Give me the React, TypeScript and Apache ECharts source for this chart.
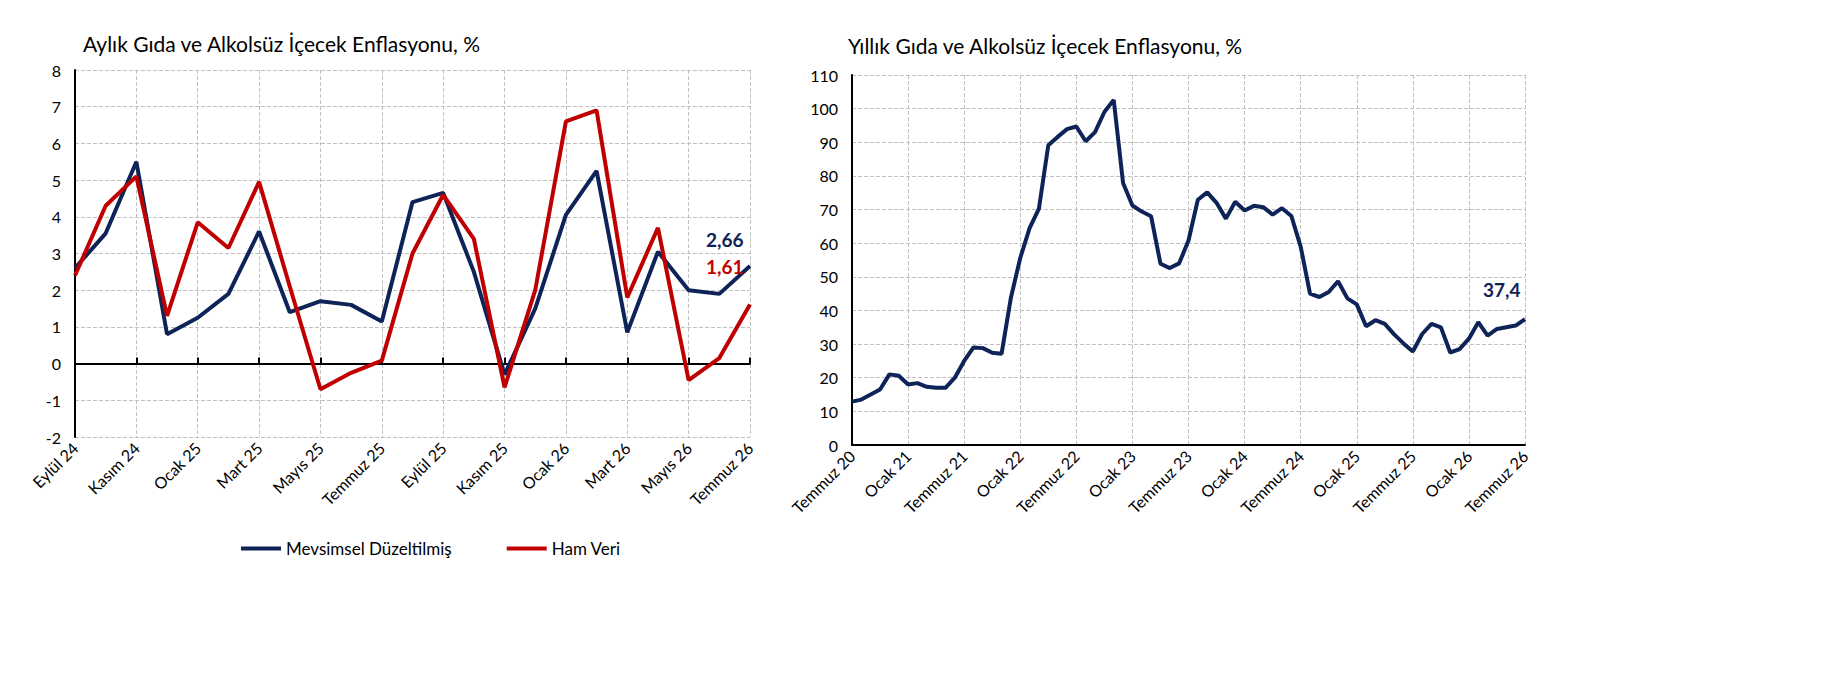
import { useEffect, useRef } from "react";
import * as echarts from "echarts";

const MONTHS = ["Ocak", "Şubat", "Mart", "Nisan", "Mayıs", "Haziran", "Temmuz", "Ağustos", "Eylül", "Ekim", "Kasım", "Aralık"];

// monthly chart: Eylül 24 .. Temmuz 26
const monthlyCats: string[] = [];
for (let i = 0; i < 23; i++) { const m = (8 + i) % 12; const y = 24 + Math.floor((8 + i) / 12); monthlyCats.push(`${MONTHS[m]} ${y}`); }
const seasonal = [2.6, 3.55, 5.5, 0.8, 1.25, 1.9, 3.6, 1.4, 1.7, 1.6, 1.15, 4.4, 4.65, 2.5, -0.3, 1.5, 4.05, 5.25, 0.85, 3.05, 2.0, 1.9, 2.66];
const raw = [2.4, 4.3, 5.1, 1.3, 3.85, 3.15, 4.95, 2.1, -0.7, -0.25, 0.08, 3.0, 4.6, 3.4, -0.65, 2.0, 6.6, 6.9, 1.8, 3.7, -0.45, 0.15, 1.61];

// annual chart: Temmuz 20 .. Temmuz 26
const annualCats: string[] = [];
for (let i = 0; i < 73; i++) { const m = (6 + i) % 12; const y = 20 + Math.floor((6 + i) / 12); annualCats.push(`${MONTHS[m]} ${y}`); }
const annual = [
  12.9, 13.5, 15, 16.5, 21, 20.6, 18, 18.4, 17.3, 17, 17, 20,
  25, 29, 28.8, 27.4, 27.1, 43.8, 55.6, 64.5, 70.3, 89.1, 91.6, 93.9,
  94.7, 90.3, 93, 99, 102.6, 77.9, 71.2, 69.4, 68, 53.9, 52.6, 54,
  60.8, 72.9, 75.1, 72, 67.3, 72.3, 69.7, 71.1, 70.7, 68.5, 70.4, 68.1,
  59, 45, 44, 45.5, 48.7, 43.6, 41.8, 35.3, 37.1, 36, 32.9, 30.2,
  27.8, 33, 36, 35, 27.5, 28.5, 31.6, 36.5, 32.5, 34.5, 35, 35.5, 37.4,
];

const NAVY = "#0e2357";
const RED = "#c00000";
const FONT = "Lato";
const fmtTr = (p: any) => String(p.value).replace(".", ",");

const endLabel = (color: string, offset: number[]) => ({
  show: true, formatter: fmtTr, color, fontSize: 19, fontWeight: "bold", fontFamily: FONT, offset, distance: 0,
});

export default function App() {
  const ref = useRef<HTMLDivElement>(null);
  useEffect(() => {
    if (!ref.current) return;
    const chart = echarts.init(ref.current, undefined, { renderer: "svg" });
    const split = { show: true, lineStyle: { color: "#c0c0c0", type: "dashed" as const } };
    const axLbl = { color: "#000", fontSize: 16, fontFamily: FONT };
    chart.setOption({
      animation: false,
      textStyle: { fontFamily: FONT },
      title: [
        { text: "Aylık Gıda ve Alkolsüz İçecek Enflasyonu, %", left: 70, top: 20, textStyle: { fontSize: 21, fontWeight: "normal", color: "#000", fontFamily: FONT } },
        { text: "Yıllık Gıda ve Alkolsüz İçecek Enflasyonu, %", left: 835, top: 22, textStyle: { fontSize: 21, fontWeight: "normal", color: "#000", fontFamily: FONT } },
      ],
      legend: {
        data: ["Mevsimsel Düzeltilmiş", "Ham Veri"], left: 228, top: 527, itemGap: 55, itemWidth: 40, itemHeight: 4,
        icon: "rect", textStyle: { fontSize: 17, color: "#000", fontFamily: FONT },
      },
      grid: [
        { left: 67, top: 62, width: 675, height: 367 },
        { left: 844, top: 67, width: 673, height: 370 },
      ],
      xAxis: [
        { type: "category", gridIndex: 0, data: monthlyCats, boundaryGap: false,
          axisLine: { show: false, onZero: false }, axisTick: { show: false },
          axisLabel: { ...axLbl, interval: 1, rotate: 45, margin: 8 },
          splitLine: { ...split, interval: 1 } },
        { type: "category", gridIndex: 1, data: annualCats, boundaryGap: false,
          axisLine: { lineStyle: { color: "#000", width: 2 } },
          axisTick: { show: false },
          axisLabel: { ...axLbl, interval: 5, rotate: 45, margin: 8 },
          splitLine: { ...split, interval: 5 } },
        { type: "category", gridIndex: 0, data: monthlyCats, boundaryGap: false,
          axisLine: { onZero: true, lineStyle: { color: "#000", width: 2 } },
          axisTick: { show: true, interval: 1, length: 6, lineStyle: { color: "#000", width: 2 } },
          axisLabel: { show: false }, splitLine: { show: false } },
      ],
      yAxis: [
        { type: "value", gridIndex: 0, min: -2, max: 8, interval: 1,
          axisLine: { show: true, lineStyle: { color: "#000", width: 2 } }, axisTick: { show: false },
          axisLabel: { ...axLbl, margin: 14 }, splitLine: split },
        { type: "value", gridIndex: 1, min: 0, max: 110, interval: 10,
          axisLine: { show: true, lineStyle: { color: "#000", width: 2 } }, axisTick: { show: false },
          axisLabel: { ...axLbl, margin: 14 }, splitLine: split },
      ],
      series: [
        { name: "Mevsimsel Düzeltilmiş", type: "line", xAxisIndex: 0, yAxisIndex: 0, data: seasonal,
          showSymbol: false, symbol: "none", color: NAVY, lineStyle: { color: NAVY, width: 4 },
          endLabel: endLabel(NAVY, [-44, -26]) },
        { name: "Ham Veri", type: "line", xAxisIndex: 0, yAxisIndex: 0, data: raw,
          showSymbol: false, symbol: "none", color: RED, lineStyle: { color: RED, width: 4 },
          endLabel: endLabel(RED, [-44, -38]) },
        { name: "Yıllık", type: "line", xAxisIndex: 1, yAxisIndex: 1, data: annual,
          showSymbol: false, symbol: "none", color: NAVY, lineStyle: { color: NAVY, width: 4 },
          endLabel: endLabel(NAVY, [-42, -30]) },
      ],
    });
    return () => chart.dispose();
  }, []);
  return <div ref={ref} style={{ width: 1828, height: 660 }} />;
}
